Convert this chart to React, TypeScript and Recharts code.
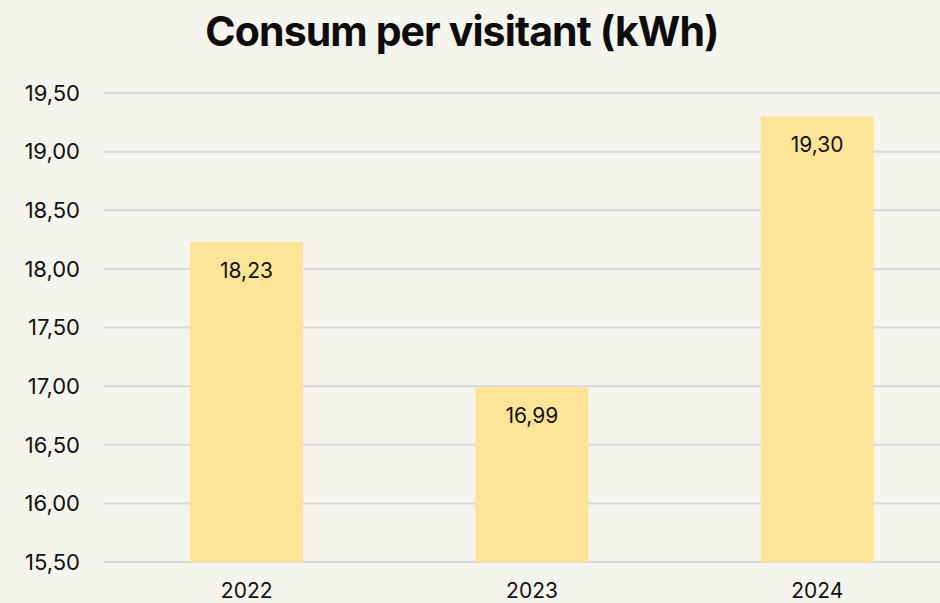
import React from 'react';
import { BarChart, Bar, XAxis, YAxis, CartesianGrid, LabelList } from 'recharts';

const years = ['2022', '2023', '2024'];
const consum = [18.23, 16.99, 19.3];
const yTicks = [15.5, 16, 16.5, 17, 17.5, 18, 18.5, 19, 19.5];

const data = years.map((year, i) => ({ year, value: consum[i] }));

const fmt = (v: number) => v.toFixed(2).replace('.', ',');

const font = 'Inter, "Noto Sans", sans-serif';

export default function App() {
  return (
    <div
      style={{
        position: 'fixed',
        left: 0,
        top: 0,
        width: 940,
        height: 603,
        overflow: 'hidden',
        background: '#f5f4ed',
        fontFamily: font,
      }}
    >
      <div
        style={{
          position: 'absolute',
          top: 4,
          left: 0,
          width: 924,
          textAlign: 'center',
          fontSize: 41,
          fontWeight: 700,
          letterSpacing: -0.9,
          color: '#0d0d0d',
          lineHeight: '54px',
        }}
      >
        Consum per visitant (kWh)
      </div>
      <BarChart
        width={960}
        height={603}
        data={data}
        margin={{ top: 93, right: 0, left: 0, bottom: 0 }}
      >
        <CartesianGrid vertical={false} stroke="#d9d9d9" strokeWidth={2} />
        <XAxis
          dataKey="year"
          axisLine={false}
          tickLine={false}
          tickSize={0}
          tickMargin={21}
          height={41}
          tick={{ fontSize: 21, fill: '#111', fontFamily: font }}
        />
        <YAxis
          domain={[15.5, 19.5]}
          ticks={yTicks}
          interval={0}
          width={104}
          axisLine={false}
          tickLine={false}
          tickSize={0}
          tickMargin={24}
          tickFormatter={fmt}
          tick={{ fontSize: 22, fill: '#111', fontFamily: font }}
        />
        <Bar dataKey="value" fill="#fde598" barSize={113} isAnimationActive={false}>
          <LabelList
            dataKey="value"
            position="insideTop"
            offset={21}
            formatter={(v: number) => fmt(v)}
            style={{ fontSize: 21, fill: '#111', fontFamily: font }}
          />
        </Bar>
      </BarChart>
    </div>
  );
}
